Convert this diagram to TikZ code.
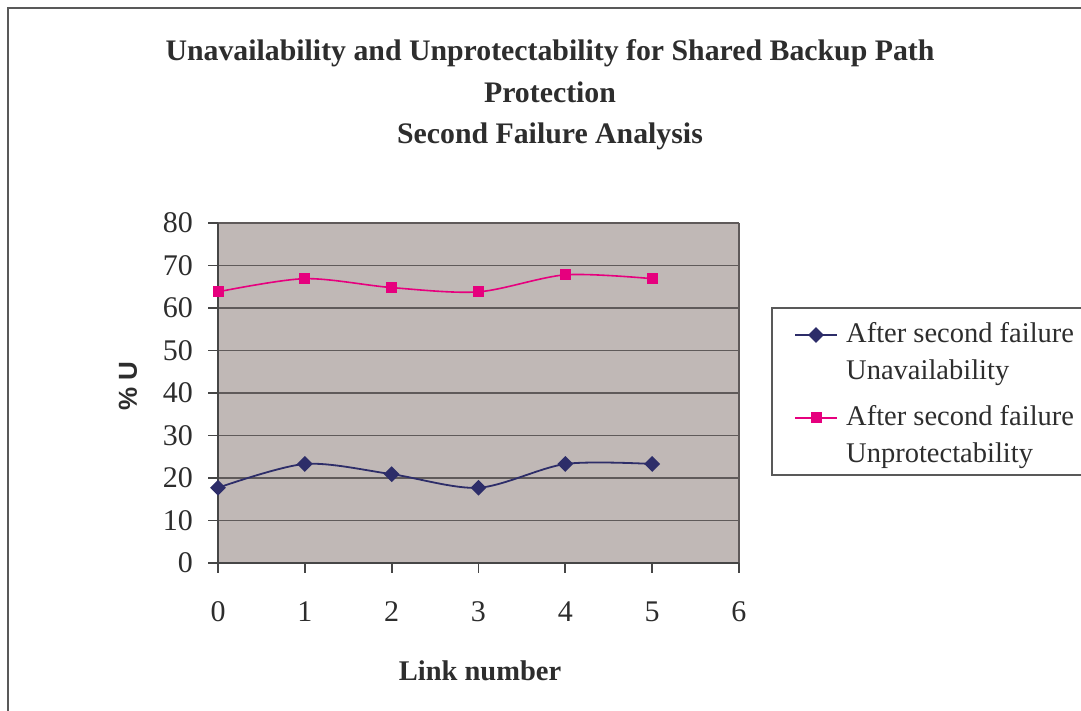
\documentclass[tikz,border=0pt]{standalone}
\usepackage{fontspec}
\setmainfont{Liberation Serif}
\setsansfont{Liberation Sans}
\usetikzlibrary{shapes.geometric,calc}

\definecolor{plotbg}{RGB}{192,184,182}
\definecolor{gridc}{RGB}{95,90,90}
\definecolor{axisc}{RGB}{70,70,70}
\definecolor{navyc}{RGB}{45,45,105}
\definecolor{pinkc}{RGB}{230,0,126}
\definecolor{textc}{RGB}{45,45,45}

\tikzset{
  frameline/.style={draw=black!65, line width=1.5pt},
  gridline/.style={draw=gridc, line width=1.3pt},
  axisline/.style={draw=axisc, line width=1.8pt},
  ticklab/.style={text=textc, font=\fontsize{30}{32}\selectfont, inner sep=0pt},
  boldlab/.style={text=textc, font=\bfseries\fontsize{28.5}{41}\selectfont, inner sep=0pt},
  titlelab/.style={text=textc, font=\bfseries\fontsize{29.8}{41.5}\selectfont, inner sep=0pt, align=center},
  legtext/.style={text=textc, font=\fontsize{28.5}{37}\selectfont, align=left, anchor=west, inner sep=0pt},
  unavline/.style={draw=navyc, line width=1.8pt},
  unprline/.style={draw=pinkc, line width=1.6pt},
  diamark/.style={diamond, fill=navyc, inner sep=0pt, minimum size=16pt},
  sqmark/.style={rectangle, fill=pinkc, inner sep=0pt, minimum size=11pt}
}

\begin{document}
\begin{tikzpicture}[x=1pt, y=1pt]
    \useasboundingbox (0,0) rectangle (1081,711);
    % keret
    \draw[frameline] (8,-20) rectangle (1100,703);
    % cim
    \node[titlelab] (title) at (550,616)
        {Unavailability and Unprotectability for Shared Backup Path\\Protection\\Second Failure Analysis};
    \node[boldlab, font=\sffamily\bfseries\fontsize{26}{30}\selectfont, rotate=90] (ylabel) at (128,325) {\% U};
    \node[boldlab] (xlabel) at (480,40) {Link number};

    % a diagram terulete: x egyseg = egy link, y egyseg = 1 %
    \begin{scope}[shift={(218,148)}, x=86.83pt, y=4.25pt]
        \fill[plotbg] (0,0) rectangle (6,80);
        \foreach \v in {10,20,...,80}
            \draw[gridline] (0,\v) -- (6,\v);
        \draw[gridline] (6,0) -- (6,80);
        \draw[axisline] (0,80) -- (0,0) -- (6,0);
        % osztasok es feliratok
        \foreach \v in {0,10,...,80} {
            \draw[axisline] (0,\v) -- ++(-10pt,0);
            \path (0,\v) ++(-25pt,0) node[ticklab, anchor=east] (yl\v) {\v};
        }
        \foreach \i in {0,...,6} {
            \draw[axisline] (\i,0) -- ++(0,-10pt);
            \path (\i,0) ++(0,-49pt) node[ticklab] (xl\i) {\i};
        }
        % adatok
        \foreach \v [count=\i from 0] in {17.7,23.3,20.9,17.7,23.3,23.3}
            \coordinate (u\i) at (\i,\v);
        \foreach \v [count=\i from 0] in {63.8,66.9,64.8,63.8,67.8,66.9}
            \coordinate (p\i) at (\i,\v);
        \draw[unavline] plot[smooth, tension=0.5] coordinates {(u0) (u1) (u2) (u3) (u4) (u5)};
        \draw[unprline] plot[smooth, tension=0.5] coordinates {(p0) (p1) (p2) (p3) (p4) (p5)};
        \foreach \i in {0,...,5} {
            \node[diamark] (mu\i) at (u\i) {};
            \node[sqmark] (mp\i) at (p\i) {};
        }
    \end{scope}

    % jelmagyarazat
    \draw[frameline, line width=1.2pt] (772,236) rectangle (1100,403);
    \coordinate (la1) at (795,376);
    \coordinate (lb1) at (837,376);
    \draw[unavline] (la1) -- (lb1);
    \node[diamark] (lm1) at ($(la1)!0.5!(lb1)$) {};
    \coordinate (la2) at (795,293);
    \coordinate (lb2) at (837,293);
    \draw[unprline] (la2) -- (lb2);
    \node[sqmark] (lm2) at ($(la2)!0.5!(lb2)$) {};
    \node[legtext] (leg1) at (846,357) {After second failure\\Unavailability};
    \node[legtext] (leg2) at (846,274) {After second failure\\Unprotectability};
\end{tikzpicture}
\end{document}
